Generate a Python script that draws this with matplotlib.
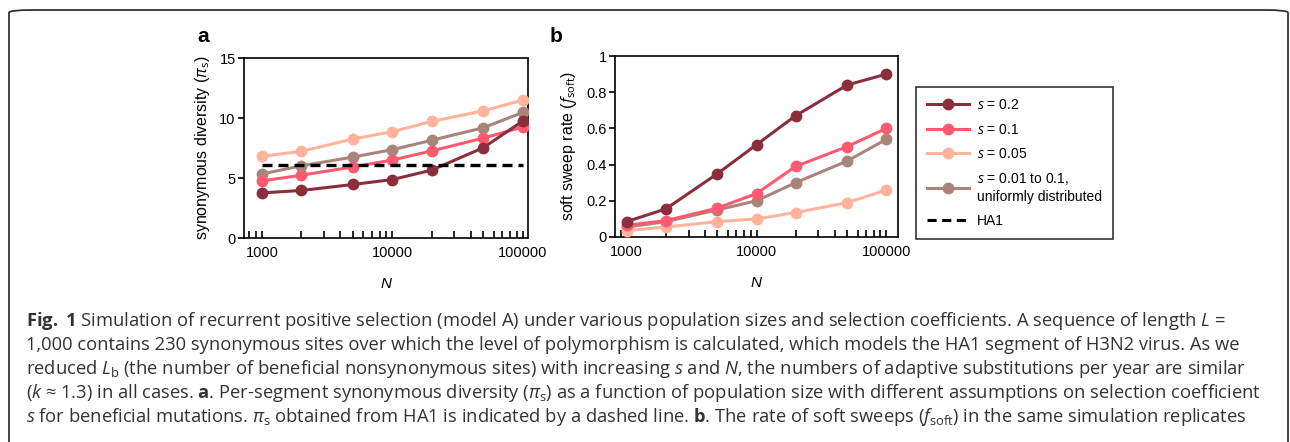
import matplotlib
matplotlib.use("Agg")
import matplotlib.pyplot as plt
from matplotlib.patches import FancyBboxPatch
from matplotlib.lines import Line2D
from matplotlib.ticker import FixedLocator, FuncFormatter, LogLocator, NullFormatter

plt.rcParams['font.family'] = ['Liberation Sans', 'DejaVu Sans']
plt.rcParams['mathtext.fontset'] = 'custom'
plt.rcParams['mathtext.rm'] = 'Open Sans'
plt.rcParams['mathtext.it'] = 'Open Sans:italic'
plt.rcParams['mathtext.bf'] = 'Open Sans:bold'

# data
N = [1000, 2000, 5000, 10000, 20000, 50000, 100000]
labels = [r'$s$ = 0.2', r'$s$ = 0.1', r'$s$ = 0.05',
          '$s$ = 0.01 to 0.1,\nuniformly distributed']
colors = ['#8B2E3C', '#FF5A70', '#FFB39C', '#A8857B']

pi_s02 = [3.76, 3.96, 4.46, 4.87, 5.65, 7.53, 9.74]
pi_s01 = [4.76, 5.23, 5.92, 6.50, 7.25, 8.33, 9.24]
pi_s005 = [6.81, 7.22, 8.25, 8.86, 9.71, 10.60, 11.49]
pi_unif = [5.34, 6.01, 6.75, 7.36, 8.14, 9.19, 10.46]
pi_ha1 = 6.09

fsoft_s02 = [0.085, 0.155, 0.35, 0.51, 0.67, 0.84, 0.90]
fsoft_s01 = [0.065, 0.09, 0.16, 0.24, 0.39, 0.50, 0.60]
fsoft_s005 = [0.035, 0.055, 0.085, 0.10, 0.135, 0.19, 0.26]
fsoft_unif = [0.055, 0.085, 0.15, 0.20, 0.30, 0.42, 0.54]

caption = [
    r"$\mathbf{Fig.}$ $\mathbf{1}$ Simulation of recurrent positive selection (model A) under various population sizes and selection coefficients. A sequence of length $L$ =",
    r"1,000 contains 230 synonymous sites over which the level of polymorphism is calculated, which models the HA1 segment of H3N2 virus. As we",
    r"reduced $L_{\mathrm{b}}$ (the number of beneficial nonsynonymous sites) with increasing $s$ and $N$, the numbers of adaptive substitutions per year are similar",
    r"($k$ ≈ 1.3) in all cases. $\mathbf{a}$. Per-segment synonymous diversity ($\pi_{\mathrm{s}}$) as a function of population size with different assumptions on selection coefficient",
    r"$s$ for beneficial mutations. $\pi_{\mathrm{s}}$ obtained from HA1 is indicated by a dashed line. $\mathbf{b}$. The rate of soft sweeps ($f_{\mathrm{soft}}$) in the same simulation replicates",
]

W, H = 1290, 442
fig = plt.figure(figsize=(W / 100, H / 100), dpi=100)

# outer rounded frame (bottom edge runs off the picture)
frame = FancyBboxPatch((9 / W, -0.2), 1279 / W, 1.2 - 10 / H,
                       boxstyle="round,pad=0,rounding_size=0.018",
                       transform=fig.transFigure, fill=False,
                       edgecolor='#333333', linewidth=1.3, mutation_aspect=H / W)
fig.patches.append(frame)

ax_a = fig.add_axes([244 / W, 1 - 238 / H, 284 / W, 180 / H])
ax_b = fig.add_axes([615 / W, 1 - 237 / H, 283 / W, 181 / H])


def style_axis(ax):
    ax.set_xscale('log')
    ax.xaxis.set_major_locator(FixedLocator([1000, 10000, 100000]))
    ax.xaxis.set_minor_locator(LogLocator(base=10, subs=range(2, 10)))
    ax.xaxis.set_major_formatter(FuncFormatter(lambda v, p: '%d' % v))
    ax.xaxis.set_minor_formatter(NullFormatter())
    ax.tick_params(axis='x', which='both', direction='in', length=5, width=1.2,
                   labelsize=10.5, pad=6)
    ax.tick_params(axis='y', direction='out', length=4, width=1.2,
                   labelsize=10.5, pad=2)
    for sp in ax.spines.values():
        sp.set_linewidth(1.2)
    ax.set_xlabel('N', fontstyle='italic', fontsize=11, labelpad=12)


series_a = [pi_s02, pi_s01, pi_s005, pi_unif]
series_b = [fsoft_s02, fsoft_s01, fsoft_s005, fsoft_unif]
order = [2, 3, 1, 0]  # draw order (dark on top)

for i in order:
    ax_a.plot(N, series_a[i], '-o', color=colors[i], lw=2.2, ms=7.5, zorder=3 + (3 - i))
ax_a.plot([N[0], N[-1]], [pi_ha1, pi_ha1], '--', color='black', lw=2.4,
          dashes=(3, 1.8), zorder=6)
ax_a.set_xlim(728, 110000)
ax_a.set_ylim(0, 15)
ax_a.set_yticks([0, 5, 10, 15])
style_axis(ax_a)
ax_a.set_ylabel(r'synonymous diversity ($\pi_{\mathrm{s}}$)', fontsize=11.5, labelpad=5)

for i in order:
    ax_b.plot(N, series_b[i], '-o', color=colors[i], lw=2.2, ms=7.5, zorder=3 + (3 - i))
ax_b.set_xlim(813, 123000)
ax_b.set_ylim(0, 1)
ax_b.set_yticks([0, 0.2, 0.4, 0.6, 0.8, 1])
ax_b.yaxis.set_major_formatter(FuncFormatter(lambda v, p: '%g' % v))
style_axis(ax_b)
ax_b.set_ylabel(r'soft sweep rate ($f_{\mathrm{soft}}$)', fontsize=11.5, labelpad=5)

fig.text(203 / W, 1 - 37 / H, 'a', fontsize=15, fontweight='bold', ha='center', va='center')
fig.text(556 / W, 1 - 37 / H, 'b', fontsize=15, fontweight='bold', ha='center', va='center')

handles = [Line2D([], [], color=colors[i], lw=2.2, marker='o', ms=7.5) for i in range(4)]
handles.append(Line2D([], [], color='black', lw=2.2, ls='--', dashes=(3, 1.8)))
leg = fig.legend(handles, labels + ['HA1'], loc='upper left',
                 bbox_to_anchor=(916 / W, 1 - 87 / H), fontsize=10,
                 frameon=True, fancybox=False, edgecolor='black',
                 handlelength=3.0, handletextpad=0.6, labelspacing=0.75,
                 borderpad=0.8, borderaxespad=0)
leg.get_frame().set_linewidth(1.2)

for k, line in enumerate(caption):
    fig.text(26 / W, 1 - (326 + 24 * k) / H, line, fontsize=13.2,
             family='Open Sans', color='#333333', ha='left', va='baseline')

fig.savefig('out.png', dpi=100)
